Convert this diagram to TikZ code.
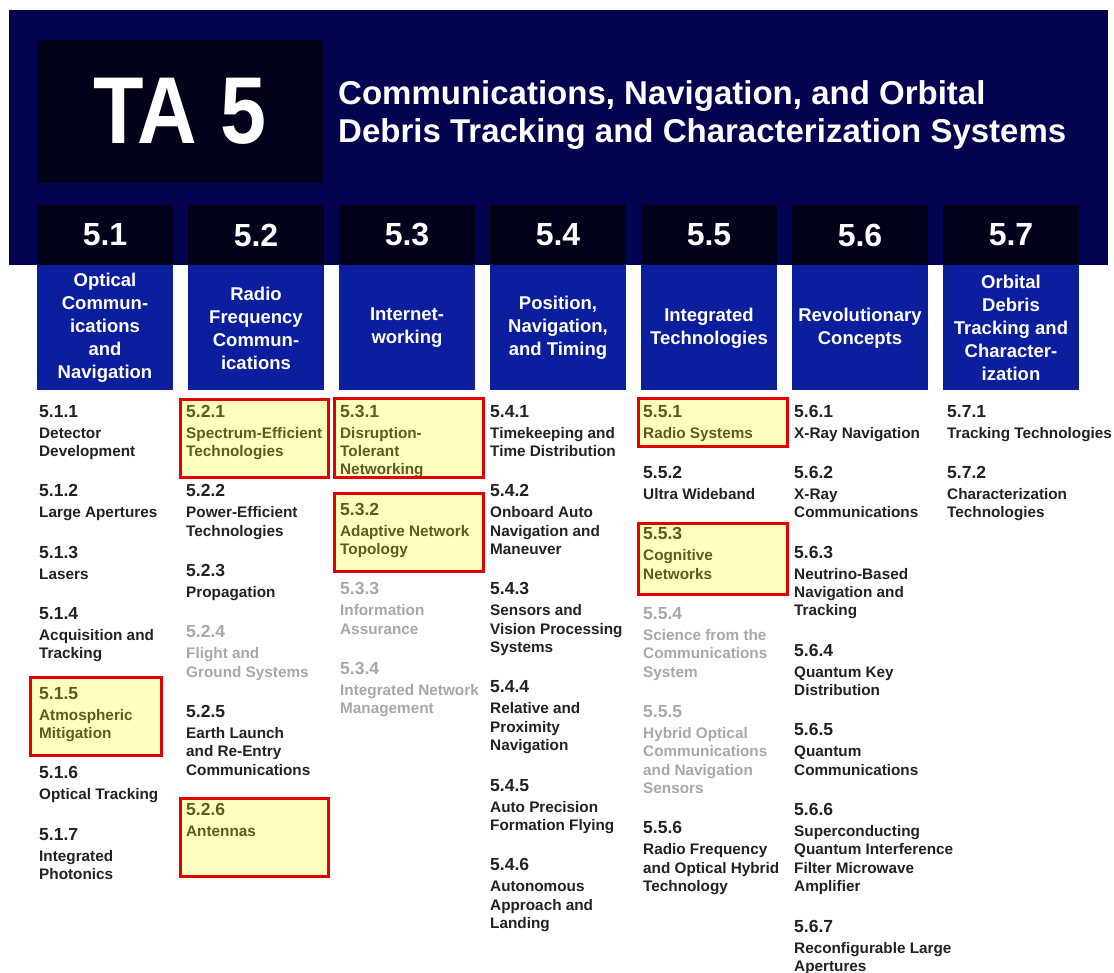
\documentclass[tikz,border=0pt]{standalone}
\usepackage{fontspec}
\setmainfont{Liberation Sans}
\usetikzlibrary{positioning}

\definecolor{navy}{RGB}{3,3,80}
\definecolor{ink}{RGB}{2,2,26}
\definecolor{royal}{RGB}{10,30,158}
\definecolor{pad}{RGB}{255,255,192}
\definecolor{olive}{RGB}{92,92,28}
\definecolor{mute}{RGB}{168,168,168}
\definecolor{txt}{RGB}{34,34,34}
\definecolor{hired}{RGB}{226,0,0}

% number line, then the description lines
\newcommand\ent[2]{\strut{\fontsize{17.5}{21}\selectfont #1}\\[2.6pt]#2\strut}
% highlight boxes: x1/y1/x2/y2
\def\hotlist{180/400/328/477, 334/399/483/477, 334/493/483/571, 638/399/787/447, 638/523/787/594, 30/677/161/755, 180/798/328/876}

\begin{document}
\begin{tikzpicture}[x=1pt, y=-1pt, node distance=21.5pt,
  numbox/.style={fill=ink, text=white, minimum width=136pt, minimum height=60pt, inner sep=0pt, font=\fontsize{32}{36}\selectfont\bfseries},
  lblbox/.style={fill=royal, text=white, minimum width=136pt, minimum height=125pt, inner sep=0pt, align=center, font=\fontsize{18.5}{23}\selectfont\bfseries},
  tsk/.style={inner sep=0pt, align=left, text=txt, font=\fontsize{15.3}{18.4}\selectfont\bfseries},
  dim/.style={tsk, text=mute},
  hot/.style={tsk, text=olive},
  under/.style={below=of #1.south west, anchor=north west},
  hl/.style={draw=hired, line width=3pt}]
\path[use as bounding box, fill=white] (0,0) rectangle (1114,973);

% header
\fill[navy] (9,10) rectangle (1108,265);
\node[fill=ink, minimum width=286pt, minimum height=143pt, inner sep=0pt] (ta) at (180,111.5) {};
\node[text=white, inner sep=0pt, font=\fontsize{95}{100}\selectfont\bfseries, xscale=.87, transform shape] (tatxt) at (ta.center) {TA 5};
\node[anchor=west, text=white, inner sep=0pt, align=left, font=\fontsize{33}{38}\selectfont\bfseries] (title) at (338,115.5) {Communications, Navigation, and Orbital\\Debris Tracking and Characterization Systems};

% column heads
\foreach \id/\lbl [count=\k from 0] in {1/{Optical\\Commun-\\ications\\and\\Navigation}, 2/{Radio\\Frequency\\Commun-\\ications}, 3/{Internet-\\working}, 4/{Position,\\Navigation,\\and Timing}, 5/{Integrated\\Technologies}, 6/{Revolutionary\\Concepts}, 7/{Orbital\\Debris\\Tracking and\\Character-\\ization}} {
  \node[numbox] (n\id) at ({105+151*\k},235) {5.\id};
  \node[lblbox, below=0pt of n\id] (l\id) {\lbl};
}

% highlight fills
\foreach \xa/\ya/\xb/\yb in \hotlist
  \fill[pad] (\xa,\ya) rectangle (\xb,\yb);

% 5.1
\node[tsk, anchor=north west] (i11) at (39,404) {\ent{5.1.1}{Detector\\Development}};
\node[tsk, under=i11] (i12) {\ent{5.1.2}{Large Apertures}};
\node[tsk, under=i12] (i13) {\ent{5.1.3}{Lasers}};
\node[tsk, under=i13] (i14) {\ent{5.1.4}{Acquisition and\\Tracking}};
\node[hot, under=i14] (i15) {\ent{5.1.5}{Atmospheric\\Mitigation}};
\node[tsk, under=i15] (i16) {\ent{5.1.6}{Optical Tracking}};
\node[tsk, under=i16] (i17) {\ent{5.1.7}{Integrated\\Photonics}};

% 5.2
\node[hot, anchor=north west] (i21) at (186,404) {\ent{5.2.1}{Spectrum-Efficient\\Technologies}};
\node[tsk, under=i21] (i22) {\ent{5.2.2}{Power-Efficient\\Technologies}};
\node[tsk, under=i22] (i23) {\ent{5.2.3}{Propagation}};
\node[dim, under=i23] (i24) {\ent{5.2.4}{Flight and\\Ground Systems}};
\node[tsk, under=i24] (i25) {\ent{5.2.5}{Earth Launch\\and Re-Entry\\Communications}};
\node[hot, under=i25] (i26) {\ent{5.2.6}{Antennas}};

% 5.3
\node[hot, anchor=north west] (i31) at (340,404) {\ent{5.3.1}{Disruption-\\Tolerant\\Networking}};
\node[hot, under=i31] (i32) {\ent{5.3.2}{Adaptive Network\\Topology}};
\node[dim, under=i32] (i33) {\ent{5.3.3}{Information\\Assurance}};
\node[dim, under=i33] (i34) {\ent{5.3.4}{Integrated Network\\Management}};

% 5.4
\node[tsk, anchor=north west] (i41) at (490,404) {\ent{5.4.1}{Timekeeping and\\Time Distribution}};
\node[tsk, under=i41] (i42) {\ent{5.4.2}{Onboard Auto\\Navigation and\\Maneuver}};
\node[tsk, under=i42] (i43) {\ent{5.4.3}{Sensors and\\Vision Processing\\Systems}};
\node[tsk, under=i43] (i44) {\ent{5.4.4}{Relative and\\Proximity\\Navigation}};
\node[tsk, under=i44] (i45) {\ent{5.4.5}{Auto Precision\\Formation Flying}};
\node[tsk, under=i45] (i46) {\ent{5.4.6}{Autonomous\\Approach and\\Landing}};

% 5.5
\node[hot, anchor=north west] (i51) at (643,404) {\ent{5.5.1}{Radio Systems}};
\node[tsk, under=i51] (i52) {\ent{5.5.2}{Ultra Wideband}};
\node[hot, under=i52] (i53) {\ent{5.5.3}{Cognitive\\Networks}};
\node[dim, under=i53] (i54) {\ent{5.5.4}{Science from the\\Communications\\System}};
\node[dim, under=i54] (i55) {\ent{5.5.5}{Hybrid Optical\\Communications\\and Navigation\\Sensors}};
\node[tsk, under=i55] (i56) {\ent{5.5.6}{Radio Frequency\\and Optical Hybrid\\Technology}};

% 5.6
\node[tsk, anchor=north west] (i61) at (794,404) {\ent{5.6.1}{X-Ray Navigation}};
\node[tsk, under=i61] (i62) {\ent{5.6.2}{X-Ray\\Communications}};
\node[tsk, under=i62] (i63) {\ent{5.6.3}{Neutrino-Based\\Navigation and\\Tracking}};
\node[tsk, under=i63] (i64) {\ent{5.6.4}{Quantum Key\\Distribution}};
\node[tsk, under=i64] (i65) {\ent{5.6.5}{Quantum\\Communications}};
\node[tsk, under=i65] (i66) {\ent{5.6.6}{Superconducting\\Quantum Interference\\Filter Microwave\\Amplifier}};
\node[tsk, under=i66] (i67) {\ent{5.6.7}{Reconfigurable Large\\Apertures}};

% 5.7
\node[tsk, anchor=north west] (i71) at (947,404) {\ent{5.7.1}{Tracking Technologies}};
\node[tsk, under=i71] (i72) {\ent{5.7.2}{Characterization\\Technologies}};

% highlight frames
\foreach \xa/\ya/\xb/\yb in \hotlist
  \draw[hl] (\xa,\ya) rectangle (\xb,\yb);
\end{tikzpicture}
\end{document}
